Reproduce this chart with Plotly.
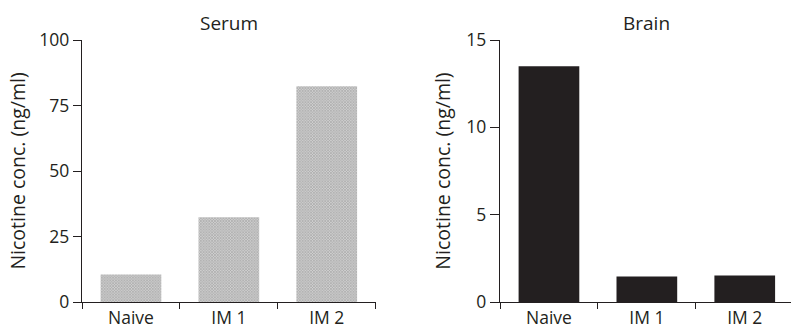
import plotly.graph_objects as go

categories = ["Naive", "IM 1", "IM 2"]
serum_values = [10.5, 32.3, 82.3]
brain_values = [13.5, 1.46, 1.52]
serum_ticks = [0, 25, 50, 75, 100]
brain_ticks = [0, 5, 10, 15]

W, H = 791, 328
FONT = "Open Sans"
INK = "#231f20"

fig = go.Figure()
fig.add_trace(go.Bar(
    x=categories, y=serum_values, xaxis="x", yaxis="y",
    marker=dict(color="#bdbdbd", line=dict(width=0),
                pattern=dict(shape="x", size=2, fgcolor="#747474", bgcolor="#cfcfcf", solidity=0.5)),
    showlegend=False))
fig.add_trace(go.Bar(
    x=categories, y=brain_values, xaxis="x2", yaxis="y2",
    marker=dict(color=INK, line=dict(width=0)),
    showlegend=False))

axis_common = dict(showgrid=False, zeroline=False, showline=True, linecolor=INK, linewidth=1.3,
                   ticks="outside", tickcolor=INK, tickwidth=1.3)

fig.update_layout(
    width=W, height=H,
    margin=dict(l=0, r=0, t=40, b=26),
    plot_bgcolor="white", paper_bgcolor="white",
    bargap=0.38,
    font=dict(family=FONT, color=INK, size=17),
    xaxis=dict(domain=[82 / W, 375.7 / W], anchor="y", range=[-0.5, 2.5], type="category",
               tickson="boundaries", ticklen=6, tickfont=dict(size=17.5), **axis_common),
    yaxis=dict(domain=[0, 1], anchor="x", range=[0, 100], tickvals=serum_ticks, ticklen=8,
               tickfont=dict(size=17.5),
               title=dict(text="Nicotine conc. (ng/ml)", font=dict(size=19.5), standoff=8), **axis_common),
    xaxis2=dict(domain=[500 / W, 1.0], anchor="y2", range=[-0.5, -0.5 + 291 / 97.9], type="category",
                tickson="boundaries", ticklen=6, tickfont=dict(size=17.5), **axis_common),
    yaxis2=dict(domain=[0, 1], anchor="x2", range=[0, 15], tickvals=brain_ticks, ticklen=9,
                tickfont=dict(size=17.5),
                title=dict(text="Nicotine conc. (ng/ml)", font=dict(size=19.5), standoff=10), **axis_common),
    annotations=[
        dict(text="Serum", xref="paper", yref="paper", x=(82 + 375.7) / 2 / W, y=1 + (40 - 23) / 262,
             xanchor="center", yanchor="middle", showarrow=False, font=dict(size=19)),
        dict(text="Brain", xref="paper", yref="paper", x=(500 + 793.7) / 2 / W, y=1 + (40 - 23) / 262,
             xanchor="center", yanchor="middle", showarrow=False, font=dict(size=19)),
    ],
)

fig.write_html("out.html", config={"displayModeBar": False},
               post_script="document.body.style.margin='0px';document.body.style.overflow='hidden';")
